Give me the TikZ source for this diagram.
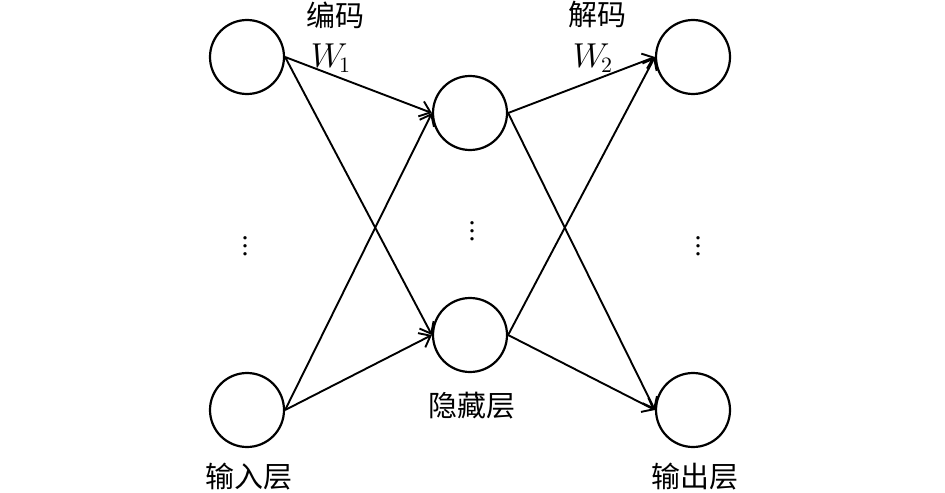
\documentclass[tikz,border=0pt]{standalone}
\usepackage{fontspec}
\setmainfont{Liberation Serif}
\newfontfamily\cjk{Noto Sans CJK SC}
\usepackage{tikz}
\usetikzlibrary{arrows.meta}
\tikzset{ unit/.style = {circle, draw, line width=1.1pt, inner sep=0pt, minimum size=37pt} }
\tikzset{ lbl/.style = {font=\cjk\fontsize{14.5}{16}\selectfont, inner sep=0pt} }
\tikzset{ wlbl/.style = {font=\fontsize{16}{18}\selectfont, inner sep=0pt} }
\tikzset{ >={Straight Barb[length=5pt,width=8pt]} }

\begin{document}
\begin{tikzpicture}[x=0.5pt,y=-0.5pt,line width=0.95pt]
            \useasboundingbox (0,0) rectangle (945,492);
                    \node [style=unit] (I1) at (247, 57) {};
                    \node [style=unit] (I2) at (247, 410) {};
                    \node [style=unit] (H1) at (470, 113) {};
                    \node [style=unit] (H2) at (470, 335) {};
                    \node [style=unit] (O1) at (693, 57) {};
                    \node [style=unit] (O2) at (693, 410) {};
                    \node [inner sep=0pt] (d1) at (245, 240) {\fontsize{14}{16}\selectfont$\vdots$};
                    \node [inner sep=0pt] (d2) at (472, 225) {\fontsize{14}{16}\selectfont$\vdots$};
                    \node [inner sep=0pt] (d3) at (698, 240) {\fontsize{14}{16}\selectfont$\vdots$};
                    \node [style=lbl] (enc) at (335, 15) {编码};
                    \node [style=lbl] (dec) at (597, 15) {解码};
                    \node [style=wlbl] (w1) at (331, 58) {$W_{\!1}$};
                    \node [style=wlbl] (w2) at (593, 58) {$W_{\!2}$};
                    \node [style=lbl] (hid) at (472, 406) {隐藏层};
                    \node [style=lbl] (inp) at (249, 477) {输入层};
                    \node [style=lbl] (out) at (695, 477) {输出层};
                    \draw[->] (I1.east) to (H1.west);
                    \draw[->] (I1.east) to (H2.west);
                    \draw[->] (I2.east) to (H1.west);
                    \draw[->] (I2.east) to (H2.west);
                    \draw[->] (H1.east) to (O1.west);
                    \draw[->] (H1.east) to (O2.west);
                    \draw[->] (H2.east) to (O1.west);
                    \draw[->] (H2.east) to (O2.west);
            \end{tikzpicture}
\end{document}
